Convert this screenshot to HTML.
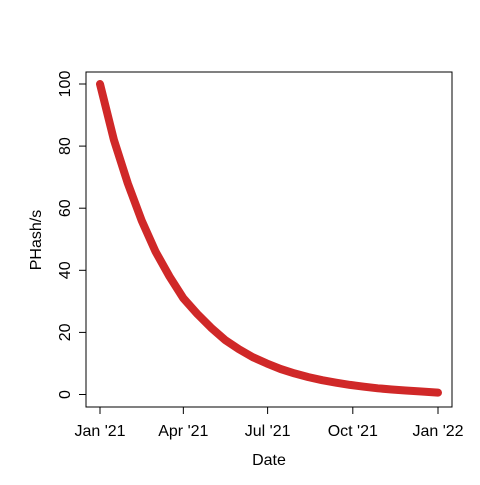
<!DOCTYPE html>
<html><head><meta charset="utf-8"><style>
body{margin:0;background:#fff}
svg text{font-family:"Liberation Sans",Arial,sans-serif;font-size:16px;fill:#000}
</style></head><body>
<svg id="chart" width="480" height="480">
<rect x="86" y="72" width="366" height="335" fill="none" stroke="#000" stroke-width="1"/>
<g id="axes"></g>
<path id="series" fill="none" stroke="#D02828" stroke-width="8" stroke-linecap="round" stroke-linejoin="round"/>
<text x="269" y="465" text-anchor="middle">Date</text>
<text transform="translate(41,240) rotate(-90)" text-anchor="middle">PHash/s</text>
</svg>
<script>
const days = [0,15,30,45,60,75,90,105,120,135,150,165,180,195,210,225,240,255,270,285,300,315,330,345,365];
const values = [100,82,68,56,46,38,31,26,21.5,17.6,14.6,12,10,8.2,6.8,5.6,4.6,3.8,3.1,2.5,2.0,1.6,1.3,1.0,0.6];
const yTicks = [0,20,40,60,80,100];
const xTickDays = [0,90,181,273,365];
const xTickLabels = ["Jan '21","Apr '21","Jul '21","Oct '21","Jan '22"];
const xs = d => 100 + d*(438-100)/365;
const ys = v => 394.5 - v*3.105;
const ns = "http://www.w3.org/2000/svg";
const g = document.getElementById('axes');
yTicks.forEach(t=>{
  const l=document.createElementNS(ns,'line');
  l.setAttribute('x1',79);l.setAttribute('x2',86);l.setAttribute('y1',ys(t));l.setAttribute('y2',ys(t));l.setAttribute('stroke','#000');
  
  
  g.appendChild(l);
  const tx=document.createElementNS(ns,'text');
  tx.setAttribute('transform',`translate(70,${ys(t)}) rotate(-90)`);tx.setAttribute('text-anchor','middle');tx.textContent=t;
  
  
  g.appendChild(tx);
});
xTickDays.forEach((d,i)=>{
  const l=document.createElementNS(ns,'line');
  l.setAttribute('x1',xs(d));l.setAttribute('x2',xs(d));l.setAttribute('y1',407);l.setAttribute('y2',414);l.setAttribute('stroke','#000');
  
  
  g.appendChild(l);
  const tx=document.createElementNS(ns,'text');
  tx.setAttribute('x',xs(d));tx.setAttribute('y',436);tx.setAttribute('text-anchor','middle');tx.textContent=xTickLabels[i];
  
  
  g.appendChild(tx);
});
document.getElementById('series').setAttribute('d', days.map((d,i)=>(i?'L':'M')+xs(d).toFixed(1)+','+ys(values[i]).toFixed(1)).join(''));
</script>
</body></html>
